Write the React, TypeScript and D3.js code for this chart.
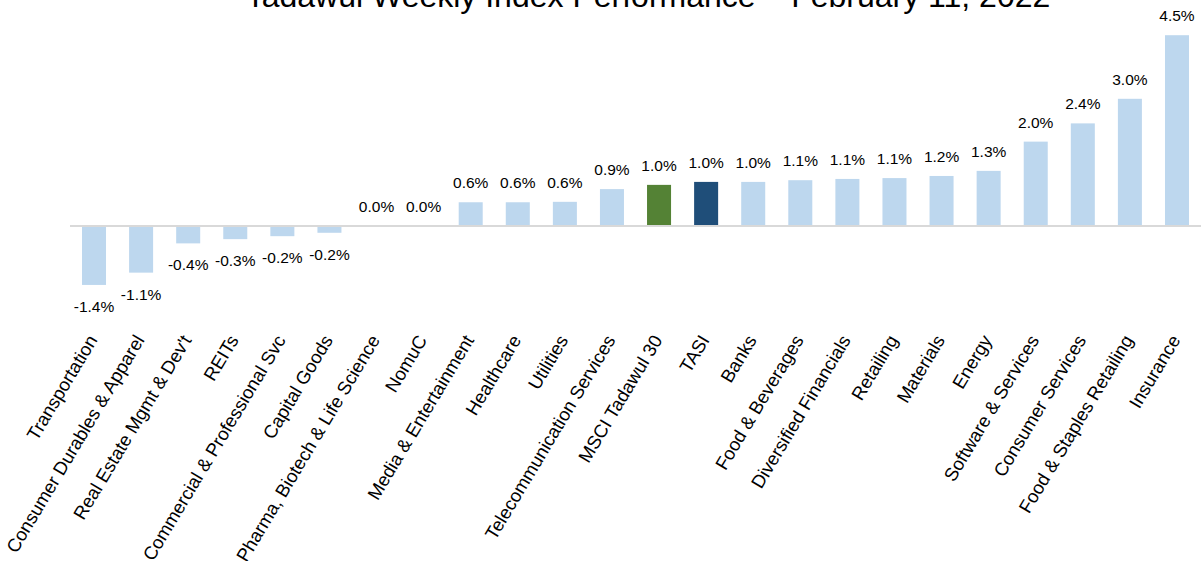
import React from "react";
import * as d3 from "d3";

const categories: string[] = [
  "Transportation",
  "Consumer Durables & Apparel",
  "Real Estate Mgmt & Dev't",
  "REITs",
  "Commercial & Professional Svc",
  "Capital Goods",
  "Pharma, Biotech & Life Science",
  "NomuC",
  "Media & Entertainment",
  "Healthcare",
  "Utilities",
  "Telecommunication Services",
  "MSCI Tadawul 30",
  "TASI",
  "Banks",
  "Food & Beverages",
  "Diversified Financials",
  "Retailing",
  "Materials",
  "Energy",
  "Software & Services",
  "Consumer Services",
  "Food & Staples Retailing",
  "Insurance",
];

const values: number[] = [
  -1.39, -1.1, -0.41, -0.31, -0.24, -0.16, 0.0, 0.0, 0.56, 0.56, 0.57, 0.87, 0.97, 1.04,
  1.04, 1.08, 1.11, 1.13, 1.18, 1.3, 1.99, 2.42, 3.0, 4.5,
];

const title = "Tadawul Weekly Index Performance \u2013 February 11, 2022";

const highlight: Record<string, string> = {
  "MSCI Tadawul 30": "#548235",
  TASI: "#1F4E79",
};

const W = 1201;
const H = 561;
const FONT = "'Liberation Sans', Arial, Helvetica, sans-serif";

export default function App() {
  const x = d3
    .scaleBand<string>()
    .domain(categories)
    .range([70, 1201])
    .paddingInner(0.49)
    .paddingOuter(0.255);
  const y = d3.scaleLinear().domain([-2, 5]).range([226 + 2 * 42.4, 226 - 5 * 42.4]);
  const y0 = y(0);
  const fmt = (v: number) => `${v.toFixed(1)}%`;
  const bw = x.bandwidth();

  return (
    <svg
      width={W}
      height={H}
      style={{ position: "absolute", left: 0, top: 0, background: "#fff" }}
      fontFamily={FONT}
    >
      <text x={648} y={7} textAnchor="middle" fontSize={32} fill="#000">
        {title}
      </text>
      {categories.map((c, i) => {
        const v = values[i];
        const bx = x(c)!;
        const top = Math.min(y(v), y0);
        const h = Math.abs(y(v) - y0);
        return (
          <rect
            key={"b" + c}
            x={bx}
            y={top}
            width={bw}
            height={h}
            fill={highlight[c] || "#BDD7EE"}
          />
        );
      })}
      <line x1={70} x2={1201} y1={y0} y2={y0} stroke="#D9D9D9" strokeWidth={2} />
      {categories.map((c, i) => {
        const v = values[i];
        const cx = x(c)! + bw / 2;
        const ly = v >= 0 ? y(v) - 14 : y(v) + 27;
        return (
          <text
            key={"v" + c}
            x={cx}
            y={ly}
            textAnchor="middle"
            fontSize={15.5}
            fill="#000"
          >
            {fmt(v)}
          </text>
        );
      })}
      {categories.map((c) => {
        const cx = x(c)! + bw / 2 + 4;
        const cy = 340;
        return (
          <text
            key={"c" + c}
            transform={`translate(${cx},${cy}) rotate(-59)`}
            textAnchor="end"
            fontSize={18.5}
            fill="#000"
          >
            {c}
          </text>
        );
      })}
    </svg>
  );
}
